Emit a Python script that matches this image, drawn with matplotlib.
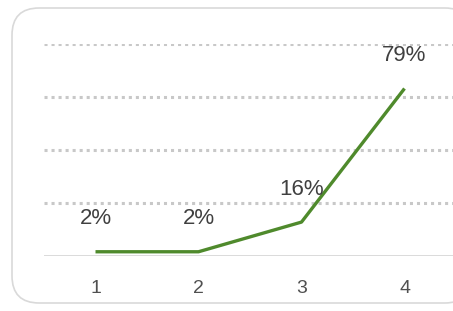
import matplotlib.pyplot as plt
from matplotlib.patches import FancyBboxPatch

# data
categories = [1, 2, 3, 4]
values = [0.02, 0.02, 0.16, 0.79]
labels = ["2%", "2%", "16%", "79%"]
grid_levels = [0.25, 0.5, 0.75, 1.0]

fig = plt.figure(figsize=(4.53, 3.11), dpi=100)

# rounded frame around the chart
frame = FancyBboxPatch((12 / 453, 8 / 311), 460 / 453, 295 / 311,
                       boxstyle="round,pad=0,rounding_size=0.06",
                       transform=fig.transFigure, facecolor="white",
                       edgecolor="#d9d9d9", linewidth=1.2,
                       mutation_aspect=453 / 311, zorder=-1)
fig.patches.append(frame)

ax = fig.add_axes([44 / 453, 55 / 311, 412 / 453, 212 / 311])
ax.set_facecolor("none")
ax.set_zorder(1)

for g in grid_levels:
    ax.axhline(g, color="#c8c8c8", linewidth=2.2, linestyle=(0, (1, 1.3)), zorder=1)
ax.axhline(0, color="#d4d4d4", linewidth=1.2, zorder=1)

ax.plot(categories, values, color="#4f8a2c", linewidth=2.4, zorder=3,
        solid_capstyle="butt")

for x, y, t in zip(categories, values, labels):
    ax.annotate(t, (x, y), xytext=(0, 33), textcoords="offset pixels",
                ha="center", va="center", fontsize=16, color="#404040",
                family="Liberation Sans")

ax.set_xlim(0.5, 4.5)
ax.set_ylim(0, 1.0)
ax.set_xticks(categories)
ax.set_xticklabels([str(c) for c in categories], fontsize=14, color="#505050",
                   family="Liberation Sans")
ax.set_yticks([])
ax.tick_params(axis="x", length=0, pad=17)
for s in ax.spines.values():
    s.set_visible(False)

fig.savefig("out.png", dpi=100)
